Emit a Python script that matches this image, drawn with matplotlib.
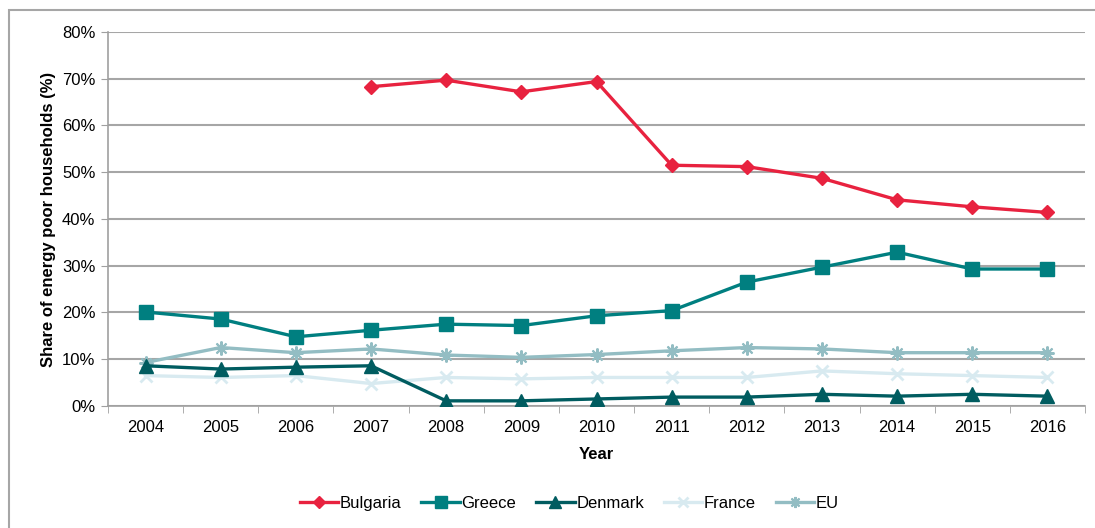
import numpy as np
import matplotlib.pyplot as plt
from matplotlib.patches import Rectangle

plt.rcParams['font.family'] = ['Liberation Sans', 'DejaVu Sans']

years = ['2004', '2005', '2006', '2007', '2008', '2009', '2010',
         '2011', '2012', '2013', '2014', '2015', '2016']

# share of energy poor households, % (nan = no data)
bulgaria = [np.nan, np.nan, np.nan, 68.3, 69.7, 67.2, 69.4, 51.5, 51.2, 48.7, 44.1, 42.6, 41.4]
greece = [20.1, 18.6, 14.8, 16.2, 17.5, 17.2, 19.3, 20.4, 26.5, 29.7, 32.9, 29.3, 29.3]
denmark = [8.6, 7.9, 8.3, 8.6, 1.1, 1.1, 1.5, 1.9, 1.9, 2.5, 2.1, 2.5, 2.1]
france = [6.5, 6.1, 6.5, 4.8, 6.1, 5.8, 6.1, 6.1, 6.1, 7.5, 6.9, 6.5, 6.1]
eu = [9.3, 12.5, 11.4, 12.2, 10.9, 10.4, 11.0, 11.8, 12.5, 12.2, 11.4, 11.4, 11.4]

fig = plt.figure(figsize=(10.95, 5.28), dpi=100)
ax = fig.add_axes([0.0986, 0.2311, 0.8923, 0.7083])

x = np.arange(len(years))
lw = 2.4
ax.plot(x, bulgaria, color='#E8223F', lw=lw, marker='D', ms=7.5, label='Bulgaria', zorder=5)
ax.plot(x, greece, color='#007F80', lw=lw, marker='s', ms=10, label='Greece', zorder=4)
ax.plot(x, denmark, color='#005C60', lw=lw, marker='^', ms=10, label='Denmark', zorder=4)
ax.plot(x, france, color='#D8EAF0', lw=lw, marker='x', ms=9, mew=2, label='France', zorder=3)
ax.plot(x, eu, color='#93BDC3', lw=lw, marker=(8, 2, 0), ms=10, mew=1.5, label='EU', zorder=3)

ax.set_xlim(-0.5, len(years) - 0.5)
ax.set_ylim(0, 80)
ax.set_yticks(np.arange(0, 81, 10))
ax.set_yticklabels([f'{v}%' for v in range(0, 81, 10)], fontsize=12)
ax.set_xticks(x)
ax.set_xticklabels(years, fontsize=12)
ax.set_xticks(np.arange(-0.5, len(years), 1), minor=True)
ax.tick_params(axis='x', which='major', length=0, pad=10)
ax.tick_params(axis='x', which='minor', length=5, color='#A0A0A0')
ax.tick_params(axis='y', length=5, color='#A0A0A0', pad=4)

ax.grid(axis='y', color='#A6A6A6', lw=1.5)
ax.set_axisbelow(True)
for s in ['top', 'right']:
    ax.spines[s].set_visible(False)
for s in ['left', 'bottom']:
    ax.spines[s].set_color('#A0A0A0')
    ax.spines[s].set_linewidth(1.2)

ax.set_xlabel('Year', fontsize=12, fontweight='bold', labelpad=9)
ax.set_ylabel('Share of energy poor households (%)', fontsize=12, fontweight='bold', labelpad=4)

leg = fig.legend(loc='center', bbox_to_anchor=(0.52, 0.047), ncol=5, frameon=False,
                 fontsize=12, handlelength=2.3, columnspacing=1.2, handletextpad=0.1,
                 markerscale=0.8)

# outer chart frame
fig.patches.append(Rectangle((9 / 1095, -0.1), 1.2, 1.1 - 10 / 528, transform=fig.transFigure,
                             fill=False, edgecolor='#A6A6A6', lw=1.5))

fig.savefig('out.png', dpi=100)
